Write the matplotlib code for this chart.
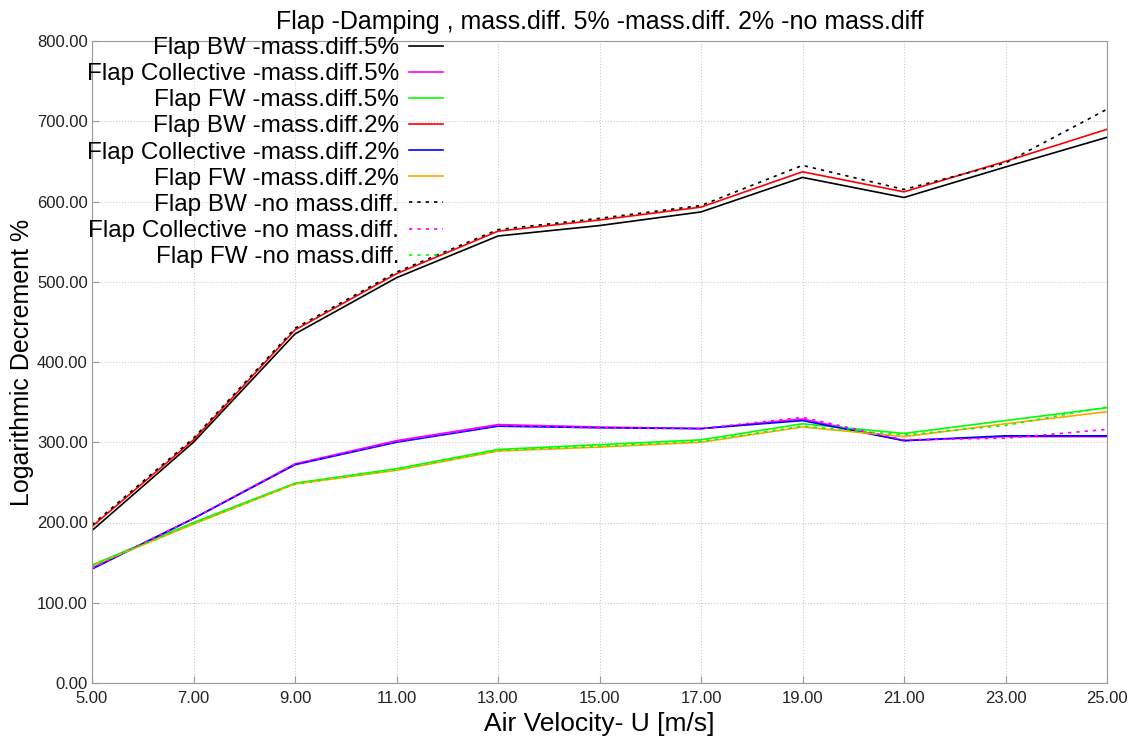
import matplotlib.pyplot as plt
from matplotlib.ticker import FormatStrFormatter

plt.rcParams['font.family'] = ['Liberation Sans', 'DejaVu Sans']

u = [5, 7, 9, 11, 13, 15, 17, 19, 21, 23, 25]

bw_5 = [190, 300, 435, 505, 557, 570, 587, 630, 605, 643, 680]
col_5 = [143, 205, 273, 302, 322, 319, 317, 329, 302, 307, 307]
fw_5 = [147, 200, 249, 267, 291, 297, 303, 323, 311, 327, 343]
bw_2 = [195, 303, 440, 510, 563, 577, 593, 637, 612, 650, 690]
col_2 = [142, 205, 272, 300, 320, 318, 317, 327, 302, 308, 308]
fw_2 = [146, 198, 248, 265, 289, 294, 300, 319, 307, 323, 338]
bw_0 = [197, 305, 442, 512, 565, 579, 595, 645, 615, 648, 715]
col_0 = [143, 205, 273, 301, 321, 318, 317, 331, 303, 305, 316]
fw_0 = [146, 199, 248, 266, 290, 295, 301, 320, 309, 321, 344]

fig = plt.figure(figsize=(11.31, 7.38), dpi=100)
ax = fig.add_axes([92 / 1131, 1 - 683 / 738, 1015 / 1131, 642 / 738])

ax.plot(u, bw_5, color='black', lw=1.2, label='Flap BW -mass.diff.5%')
ax.plot(u, col_5, color='magenta', lw=1.2, label='Flap Collective -mass.diff.5%')
ax.plot(u, fw_5, color='lime', lw=1.2, label='Flap FW -mass.diff.5%')
ax.plot(u, bw_2, color='red', lw=1.2, label='Flap BW -mass.diff.2%')
ax.plot(u, col_2, color='blue', lw=1.2, label='Flap Collective -mass.diff.2%')
ax.plot(u, fw_2, color='orange', lw=1.2, label='Flap FW -mass.diff.2%')
ax.plot(u, bw_0, color='black', lw=1.2, ls=(0, (2, 3)), label='Flap BW -no mass.diff.')
ax.plot(u, col_0, color='magenta', lw=1.2, ls=(0, (2, 3)), label='Flap Collective -no mass.diff.')
ax.plot(u, fw_0, color='lime', lw=1.2, ls=(0, (2, 3)), label='Flap FW -no mass.diff.')

ax.set_xlim(5, 25)
ax.set_ylim(0, 800)
ax.set_xticks(range(5, 26, 2))
ax.set_yticks(range(0, 801, 100))
ax.xaxis.set_major_formatter(FormatStrFormatter('%.2f'))
ax.yaxis.set_major_formatter(FormatStrFormatter('%.2f'))
ax.tick_params(labelsize=12, labelcolor='#222222', direction='in', length=5,
               color='#999999', pad=3)
ax.tick_params(axis='x', pad=6)
ax.grid(True, ls=':', color='#cccccc', lw=0.8)
for s in ax.spines.values():
    s.set_color('#999999')

ax.set_title('Flap -Damping , mass.diff. 5% -mass.diff. 2% -no mass.diff',
             fontsize=18, pad=9)
ax.set_xlabel('Air Velocity- U [m/s]', fontsize=19, labelpad=4)
ax.set_ylabel('Logarithmic Decrement %', fontsize=18, labelpad=2)

ax.legend(loc='upper right', bbox_to_anchor=(443 / 1131, 1 - 37 / 738),
          bbox_transform=fig.transFigure, frameon=False, markerfirst=False,
          fontsize=17.5, handlelength=1.4, handletextpad=0.4,
          labelspacing=0.17, borderaxespad=0, borderpad=0)

plt.savefig('out.png', dpi=100)
